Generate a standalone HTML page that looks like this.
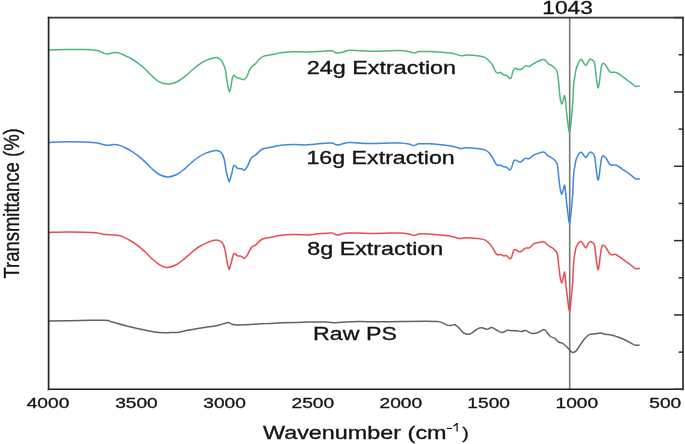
<!DOCTYPE html>
<html><head><meta charset="utf-8"><style>
html,body{margin:0;padding:0;background:#fff;width:685px;height:444px;overflow:hidden}
svg{display:block;will-change:transform;filter:blur(0.3px)}
text{font-family:"Liberation Sans",sans-serif;fill:#141414;stroke:#141414;stroke-width:0.32px}
</style></head><body>
<svg width="685" height="444" viewBox="0 0 685 444">
<line x1="569.7" y1="17.6" x2="569.7" y2="389.3" stroke="#777" stroke-width="1.6"/>
<g fill="none" stroke-linejoin="round" stroke-linecap="round" stroke-width="1.5">
<path stroke="#4cb77b" d="M49.10,49.90 C51.97,49.83 60.52,49.55 66.30,49.50 C72.08,49.45 78.93,49.48 83.80,49.60 C88.67,49.72 92.82,49.90 95.50,50.20 C98.18,50.50 98.45,50.87 99.90,51.40 C101.35,51.93 103.03,52.97 104.20,53.40 C105.37,53.83 105.92,54.00 106.90,54.00 C107.88,54.00 108.72,53.67 110.10,53.40 C111.48,53.13 113.62,52.45 115.20,52.40 C116.78,52.35 117.78,52.48 119.60,53.10 C121.42,53.72 124.20,55.20 126.10,56.10 C128.00,57.00 129.10,57.38 131.00,58.50 C132.90,59.62 135.23,61.13 137.50,62.80 C139.77,64.47 142.20,66.33 144.60,68.50 C147.00,70.67 149.47,73.57 151.90,75.80 C154.33,78.03 156.40,80.52 159.20,81.90 C162.00,83.28 165.78,84.08 168.70,84.10 C171.62,84.12 174.15,83.15 176.70,82.00 C179.25,80.85 181.57,79.08 184.00,77.20 C186.43,75.32 188.87,72.77 191.30,70.70 C193.73,68.63 196.17,66.52 198.60,64.80 C201.03,63.08 203.22,61.57 205.90,60.40 C208.58,59.23 212.75,58.23 214.70,57.80 C216.65,57.37 216.52,57.40 217.60,57.80 C218.68,58.20 220.10,58.83 221.20,60.20 C222.30,61.57 223.43,64.03 224.20,66.00 C224.97,67.97 225.43,70.17 225.80,72.00 C226.17,73.83 226.03,74.50 226.40,77.00 C226.77,79.50 227.48,84.53 228.00,87.00 C228.52,89.47 229.02,91.85 229.50,91.80 C229.98,91.75 230.42,89.00 230.90,86.70 C231.38,84.40 231.90,79.90 232.40,78.00 C232.90,76.10 233.28,75.43 233.90,75.30 C234.52,75.17 235.25,76.72 236.10,77.20 C236.95,77.68 238.03,77.88 239.00,78.20 C239.97,78.52 241.05,78.85 241.90,79.10 C242.75,79.35 243.25,80.13 244.10,79.70 C244.95,79.27 246.15,78.00 247.00,76.50 C247.85,75.00 248.35,72.40 249.20,70.70 C250.05,69.00 251.00,67.52 252.10,66.30 C253.20,65.08 254.58,64.62 255.80,63.40 C257.02,62.18 258.07,60.22 259.40,59.00 C260.73,57.78 262.10,56.78 263.80,56.10 C265.50,55.42 267.65,55.27 269.60,54.90 C271.55,54.53 273.30,54.32 275.50,53.90 C277.70,53.48 279.88,52.77 282.80,52.40 C285.72,52.03 289.35,51.77 293.00,51.70 C296.65,51.63 301.30,52.00 304.70,52.00 C308.10,52.00 310.57,51.83 313.40,51.70 C316.23,51.57 318.62,51.37 321.70,51.20 C324.78,51.03 329.72,50.52 331.90,50.70 C334.08,50.88 333.83,51.90 334.80,52.30 C335.77,52.70 336.23,53.17 337.70,53.10 C339.17,53.03 341.77,52.35 343.60,51.90 C345.43,51.45 345.78,50.60 348.70,50.40 C351.62,50.20 356.60,50.57 361.10,50.70 C365.60,50.83 370.83,51.20 375.70,51.20 C380.57,51.20 385.68,50.78 390.30,50.70 C394.92,50.62 400.32,50.55 403.40,50.70 C406.48,50.85 406.93,51.23 408.80,51.60 C410.67,51.97 412.90,52.90 414.60,52.90 C416.30,52.90 416.57,51.82 419.00,51.60 C421.43,51.38 425.55,51.50 429.20,51.60 C432.85,51.70 437.25,51.95 440.90,52.20 C444.55,52.45 448.43,52.72 451.10,53.10 C453.77,53.48 455.20,54.05 456.90,54.50 C458.60,54.95 459.58,55.70 461.30,55.80 C463.02,55.90 464.52,55.12 467.20,55.10 C469.88,55.08 474.48,55.32 477.40,55.70 C480.32,56.08 482.75,56.52 484.70,57.40 C486.65,58.28 487.83,59.78 489.10,61.00 C490.37,62.22 491.30,63.05 492.30,64.70 C493.30,66.35 494.27,69.53 495.10,70.90 C495.93,72.27 496.47,72.63 497.30,72.90 C498.13,73.17 499.25,72.32 500.10,72.50 C500.95,72.68 501.65,73.55 502.40,74.00 C503.15,74.45 503.85,74.93 504.60,75.20 C505.35,75.47 506.05,75.05 506.90,75.60 C507.75,76.15 508.95,78.25 509.70,78.50 C510.45,78.75 510.83,78.40 511.40,77.10 C511.97,75.80 512.50,72.20 513.10,70.70 C513.70,69.20 514.25,68.35 515.00,68.10 C515.75,67.85 516.70,68.97 517.60,69.20 C518.50,69.43 519.47,69.73 520.40,69.50 C521.33,69.27 522.27,68.42 523.20,67.80 C524.13,67.18 524.97,66.03 526.00,65.80 C527.03,65.57 528.27,66.68 529.40,66.40 C530.53,66.12 531.68,64.77 532.80,64.10 C533.92,63.43 534.98,62.95 536.10,62.40 C537.22,61.85 538.37,61.27 539.50,60.80 C540.63,60.33 541.97,59.70 542.90,59.60 C543.83,59.50 544.17,59.48 545.10,60.20 C546.03,60.92 547.47,63.05 548.50,63.90 C549.53,64.75 550.37,64.70 551.30,65.30 C552.23,65.90 553.15,66.48 554.10,67.50 C555.05,68.52 556.25,68.98 557.00,71.40 C557.75,73.82 558.18,78.57 558.60,82.00 C559.02,85.43 559.20,89.07 559.50,92.00 C559.80,94.93 560.02,97.60 560.40,99.60 C560.78,101.60 561.35,103.85 561.80,104.00 C562.25,104.15 562.63,101.90 563.10,100.50 C563.57,99.10 564.18,95.35 564.60,95.60 C565.02,95.85 565.28,99.33 565.60,102.00 C565.92,104.67 566.13,108.20 566.50,111.60 C566.87,115.00 567.43,119.42 567.80,122.40 C568.17,125.38 568.42,127.73 568.70,129.50 C568.98,131.27 569.25,133.00 569.50,133.00 C569.75,133.00 569.95,131.27 570.20,129.50 C570.45,127.73 570.68,125.38 571.00,122.40 C571.32,119.42 571.78,115.20 572.10,111.60 C572.42,108.00 572.70,104.40 572.90,100.80 C573.10,97.20 573.13,93.13 573.30,90.00 C573.47,86.87 573.67,84.07 573.90,82.00 C574.13,79.93 574.37,79.58 574.70,77.60 C575.03,75.62 575.38,72.30 575.90,70.10 C576.42,67.90 577.17,65.98 577.80,64.40 C578.43,62.82 579.12,61.47 579.70,60.60 C580.28,59.73 580.75,59.03 581.30,59.20 C581.85,59.37 582.28,60.55 583.00,61.60 C583.72,62.65 584.80,65.37 585.60,65.50 C586.40,65.63 587.08,63.47 587.80,62.40 C588.52,61.33 589.20,59.53 589.90,59.10 C590.60,58.67 591.33,59.40 592.00,59.80 C592.67,60.20 593.42,60.60 593.90,61.50 C594.38,62.40 594.58,63.32 594.90,65.20 C595.22,67.08 595.48,70.12 595.80,72.80 C596.12,75.48 596.43,78.80 596.80,81.30 C597.17,83.80 597.62,87.32 598.00,87.80 C598.38,88.28 598.72,86.38 599.10,84.20 C599.48,82.02 599.90,77.70 600.30,74.70 C600.70,71.70 601.07,68.08 601.50,66.20 C601.93,64.32 602.35,63.72 602.90,63.40 C603.45,63.08 604.08,63.60 604.80,64.30 C605.52,65.00 606.42,66.42 607.20,67.60 C607.98,68.78 608.80,70.62 609.50,71.40 C610.20,72.18 610.65,72.15 611.40,72.30 C612.15,72.45 613.25,72.27 614.00,72.30 C614.75,72.33 615.02,72.18 615.90,72.50 C616.78,72.82 617.98,73.35 619.30,74.20 C620.62,75.05 622.30,76.47 623.80,77.60 C625.30,78.73 626.80,79.88 628.30,81.00 C629.80,82.12 631.58,83.42 632.80,84.30 C634.02,85.18 634.52,85.97 635.60,86.30 C636.68,86.63 638.68,86.30 639.30,86.30"/>
<path stroke="#3d88e0" d="M49.10,142.40 C51.97,142.28 60.52,141.77 66.30,141.70 C72.08,141.63 78.93,141.82 83.80,142.00 C88.67,142.18 92.72,142.50 95.50,142.80 C98.28,143.10 98.68,143.38 100.50,143.80 C102.32,144.22 104.73,145.10 106.40,145.30 C108.07,145.50 109.15,145.12 110.50,145.00 C111.85,144.88 112.98,144.53 114.50,144.60 C116.02,144.67 117.90,144.92 119.60,145.40 C121.30,145.88 122.80,146.60 124.70,147.50 C126.60,148.40 128.87,149.50 131.00,150.80 C133.13,152.10 135.23,153.53 137.50,155.30 C139.77,157.07 142.20,159.17 144.60,161.40 C147.00,163.63 149.47,166.52 151.90,168.70 C154.33,170.88 156.52,173.12 159.20,174.50 C161.88,175.88 165.08,177.00 168.00,177.00 C170.92,177.00 174.03,175.77 176.70,174.50 C179.37,173.23 181.57,171.35 184.00,169.40 C186.43,167.45 188.87,164.87 191.30,162.80 C193.73,160.73 196.17,158.62 198.60,157.00 C201.03,155.38 202.98,154.20 205.90,153.10 C208.82,152.00 213.55,150.48 216.10,150.40 C218.65,150.32 219.85,151.13 221.20,152.60 C222.55,154.07 223.33,155.92 224.20,159.20 C225.07,162.48 225.68,168.92 226.40,172.30 C227.12,175.68 227.98,177.98 228.50,179.50 C229.02,181.02 228.97,182.35 229.50,181.40 C230.03,180.45 230.97,176.45 231.70,173.80 C232.43,171.15 232.93,166.43 233.90,165.50 C234.87,164.57 236.28,167.67 237.50,168.20 C238.72,168.73 240.03,168.38 241.20,168.70 C242.37,169.02 243.42,170.58 244.50,170.10 C245.58,169.62 246.55,167.87 247.70,165.80 C248.85,163.73 250.05,159.53 251.40,157.70 C252.75,155.87 253.98,156.25 255.80,154.80 C257.62,153.35 260.00,150.22 262.30,149.00 C264.60,147.78 266.43,148.12 269.60,147.50 C272.77,146.88 277.40,145.78 281.30,145.30 C285.20,144.82 289.10,144.67 293.00,144.60 C296.90,144.53 301.87,144.90 304.70,144.90 C307.53,144.90 307.17,144.82 310.00,144.60 C312.83,144.38 318.05,143.85 321.70,143.60 C325.35,143.35 329.35,142.85 331.90,143.10 C334.45,143.35 335.05,145.02 337.00,145.10 C338.95,145.18 341.53,144.02 343.60,143.60 C345.67,143.18 345.27,142.63 349.40,142.60 C353.53,142.57 361.58,143.32 368.40,143.40 C375.22,143.48 385.03,143.15 390.30,143.10 C395.57,143.05 396.92,142.93 400.00,143.10 C403.08,143.27 406.48,143.70 408.80,144.10 C411.12,144.50 412.20,145.55 413.90,145.50 C415.60,145.45 416.45,144.08 419.00,143.80 C421.55,143.52 425.55,143.63 429.20,143.80 C432.85,143.97 437.25,144.43 440.90,144.80 C444.55,145.17 448.43,145.57 451.10,146.00 C453.77,146.43 455.20,146.97 456.90,147.40 C458.60,147.83 459.83,148.55 461.30,148.60 C462.77,148.65 463.02,147.72 465.70,147.70 C468.38,147.68 474.23,148.13 477.40,148.50 C480.57,148.87 482.75,149.18 484.70,149.90 C486.65,150.62 487.75,151.43 489.10,152.80 C490.45,154.17 491.62,156.18 492.80,158.10 C493.98,160.02 495.35,163.08 496.20,164.30 C497.05,165.52 497.15,165.25 497.90,165.40 C498.65,165.55 499.77,164.98 500.70,165.20 C501.63,165.42 502.57,166.38 503.50,166.70 C504.43,167.02 505.27,166.53 506.30,167.10 C507.33,167.67 508.85,169.92 509.70,170.10 C510.55,170.28 510.75,169.65 511.40,168.20 C512.05,166.75 512.95,162.77 513.60,161.40 C514.25,160.03 514.35,159.90 515.30,160.00 C516.25,160.10 518.17,161.85 519.30,162.00 C520.43,162.15 521.08,161.50 522.10,160.90 C523.12,160.30 524.18,158.78 525.40,158.40 C526.62,158.02 528.08,159.12 529.40,158.60 C530.72,158.08 531.98,156.13 533.30,155.30 C534.62,154.47 535.88,154.12 537.30,153.60 C538.72,153.08 540.58,152.40 541.80,152.20 C543.02,152.00 543.57,151.80 544.60,152.40 C545.63,153.00 546.88,154.95 548.00,155.80 C549.12,156.65 550.18,156.75 551.30,157.50 C552.42,158.25 553.70,159.13 554.70,160.30 C555.70,161.47 556.65,161.88 557.30,164.50 C557.95,167.12 558.23,172.75 558.60,176.00 C558.97,179.25 559.20,181.67 559.50,184.00 C559.80,186.33 560.02,188.30 560.40,190.00 C560.78,191.70 561.35,194.12 561.80,194.20 C562.25,194.28 562.63,192.02 563.10,190.50 C563.57,188.98 564.18,184.85 564.60,185.10 C565.02,185.35 565.28,189.27 565.60,192.00 C565.92,194.73 566.13,198.08 566.50,201.50 C566.87,204.92 567.43,209.45 567.80,212.50 C568.17,215.55 568.42,217.97 568.70,219.80 C568.98,221.63 569.25,223.50 569.50,223.50 C569.75,223.50 569.95,221.63 570.20,219.80 C570.45,217.97 570.68,215.55 571.00,212.50 C571.32,209.45 571.78,205.17 572.10,201.50 C572.42,197.83 572.70,194.08 572.90,190.50 C573.10,186.92 573.13,183.08 573.30,180.00 C573.47,176.92 573.67,174.17 573.90,172.00 C574.13,169.83 574.37,168.92 574.70,167.00 C575.03,165.08 575.38,162.42 575.90,160.50 C576.42,158.58 577.17,156.78 577.80,155.50 C578.43,154.22 579.08,153.33 579.70,152.80 C580.32,152.27 580.90,152.00 581.50,152.30 C582.10,152.60 582.58,153.72 583.30,154.60 C584.02,155.48 585.03,157.62 585.80,157.60 C586.57,157.58 587.20,155.42 587.90,154.50 C588.60,153.58 589.32,152.38 590.00,152.10 C590.68,151.82 591.35,152.40 592.00,152.80 C592.65,153.20 593.42,153.63 593.90,154.50 C594.38,155.37 594.58,156.17 594.90,158.00 C595.22,159.83 595.48,162.83 595.80,165.50 C596.12,168.17 596.43,171.58 596.80,174.00 C597.17,176.42 597.62,179.58 598.00,180.00 C598.38,180.42 598.72,178.75 599.10,176.50 C599.48,174.25 599.90,169.50 600.30,166.50 C600.70,163.50 601.07,160.28 601.50,158.50 C601.93,156.72 602.35,156.10 602.90,155.80 C603.45,155.50 604.08,156.00 604.80,156.70 C605.52,157.40 606.42,158.78 607.20,160.00 C607.98,161.22 608.80,163.13 609.50,164.00 C610.20,164.87 610.65,165.02 611.40,165.20 C612.15,165.38 613.25,165.13 614.00,165.10 C614.75,165.07 615.02,164.68 615.90,165.00 C616.78,165.32 617.98,166.13 619.30,167.00 C620.62,167.87 622.30,169.17 623.80,170.20 C625.30,171.23 626.80,172.13 628.30,173.20 C629.80,174.27 631.58,175.65 632.80,176.60 C634.02,177.55 634.52,178.52 635.60,178.90 C636.68,179.28 638.68,178.90 639.30,178.90"/>
<path stroke="#ea4a52" d="M49.10,232.40 C52.45,232.33 61.47,231.93 69.20,232.00 C76.93,232.07 89.90,232.43 95.50,232.80 C101.10,233.17 100.85,233.90 102.80,234.20 C104.75,234.50 105.25,234.48 107.20,234.60 C109.15,234.72 112.07,234.60 114.50,234.90 C116.93,235.20 119.05,235.38 121.80,236.40 C124.55,237.42 128.38,239.52 131.00,241.00 C133.62,242.48 135.23,243.57 137.50,245.30 C139.77,247.03 142.20,249.17 144.60,251.40 C147.00,253.63 149.47,256.52 151.90,258.70 C154.33,260.88 156.65,263.05 159.20,264.50 C161.75,265.95 164.28,267.40 167.20,267.40 C170.12,267.40 173.90,265.88 176.70,264.50 C179.50,263.12 181.57,261.05 184.00,259.10 C186.43,257.15 188.87,254.82 191.30,252.80 C193.73,250.78 195.92,248.70 198.60,247.00 C201.28,245.30 204.48,243.75 207.40,242.60 C210.32,241.45 213.67,240.10 216.10,240.10 C218.53,240.10 220.53,241.08 222.00,242.60 C223.47,244.12 224.05,245.92 224.90,249.20 C225.75,252.48 226.50,259.25 227.10,262.30 C227.70,265.35 228.10,266.40 228.50,267.50 C228.90,268.60 228.97,270.00 229.50,268.90 C230.03,267.80 230.97,263.45 231.70,260.90 C232.43,258.35 232.93,254.45 233.90,253.60 C234.87,252.75 236.28,255.37 237.50,255.80 C238.72,256.23 240.03,255.80 241.20,256.20 C242.37,256.60 243.42,258.52 244.50,258.20 C245.58,257.88 246.55,256.10 247.70,254.30 C248.85,252.50 250.05,248.98 251.40,247.40 C252.75,245.82 253.98,246.20 255.80,244.80 C257.62,243.40 260.00,240.22 262.30,239.00 C264.60,237.78 266.43,238.12 269.60,237.50 C272.77,236.88 277.40,235.78 281.30,235.30 C285.20,234.82 288.62,234.65 293.00,234.60 C297.38,234.55 304.77,234.97 307.60,235.00 C310.43,235.03 307.65,235.03 310.00,234.80 C312.35,234.57 318.05,233.88 321.70,233.60 C325.35,233.32 329.35,232.85 331.90,233.10 C334.45,233.35 335.05,235.02 337.00,235.10 C338.95,235.18 341.53,233.97 343.60,233.60 C345.67,233.23 345.27,232.93 349.40,232.90 C353.53,232.87 361.58,233.37 368.40,233.40 C375.22,233.43 385.03,233.15 390.30,233.10 C395.57,233.05 396.92,232.93 400.00,233.10 C403.08,233.27 406.42,233.70 408.80,234.10 C411.18,234.50 412.60,235.53 414.30,235.50 C416.00,235.47 416.52,234.13 419.00,233.90 C421.48,233.67 425.55,233.90 429.20,234.10 C432.85,234.30 437.25,234.73 440.90,235.10 C444.55,235.47 447.93,235.73 451.10,236.30 C454.27,236.87 457.47,238.27 459.90,238.50 C462.33,238.73 462.78,237.70 465.70,237.70 C468.62,237.70 474.23,238.13 477.40,238.50 C480.57,238.87 482.75,239.10 484.70,239.90 C486.65,240.70 487.75,241.93 489.10,243.30 C490.45,244.67 491.62,246.37 492.80,248.10 C493.98,249.83 495.35,252.58 496.20,253.70 C497.05,254.82 497.15,254.67 497.90,254.80 C498.65,254.93 499.77,254.32 500.70,254.50 C501.63,254.68 502.57,255.72 503.50,255.90 C504.43,256.08 505.22,255.12 506.30,255.60 C507.38,256.08 509.12,258.55 510.00,258.80 C510.88,259.05 511.00,258.45 511.60,257.10 C512.20,255.75 512.98,251.97 513.60,250.70 C514.22,249.43 514.35,249.32 515.30,249.50 C516.25,249.68 518.17,251.60 519.30,251.80 C520.43,252.00 521.08,251.32 522.10,250.70 C523.12,250.08 524.18,248.58 525.40,248.10 C526.62,247.62 528.08,248.47 529.40,247.80 C530.72,247.13 531.98,244.93 533.30,244.10 C534.62,243.27 535.88,243.17 537.30,242.80 C538.72,242.43 540.58,242.02 541.80,241.90 C543.02,241.78 543.57,241.50 544.60,242.10 C545.63,242.70 546.88,244.63 548.00,245.50 C549.12,246.37 550.18,246.58 551.30,247.30 C552.42,248.02 553.70,248.72 554.70,249.80 C555.70,250.88 556.65,251.35 557.30,253.80 C557.95,256.25 558.23,261.47 558.60,264.50 C558.97,267.53 559.20,269.67 559.50,272.00 C559.80,274.33 560.02,276.68 560.40,278.50 C560.78,280.32 561.35,282.90 561.80,282.90 C562.25,282.90 562.63,280.30 563.10,278.50 C563.57,276.70 564.18,271.77 564.60,272.10 C565.02,272.43 565.28,277.55 565.60,280.50 C565.92,283.45 566.13,286.47 566.50,289.80 C566.87,293.13 567.43,297.47 567.80,300.50 C568.17,303.53 568.42,306.17 568.70,308.00 C568.98,309.83 569.25,311.50 569.50,311.50 C569.75,311.50 569.95,309.83 570.20,308.00 C570.45,306.17 570.68,303.58 571.00,300.50 C571.32,297.42 571.78,293.17 572.10,289.50 C572.42,285.83 572.70,282.08 572.90,278.50 C573.10,274.92 573.13,271.08 573.30,268.00 C573.47,264.92 573.67,262.25 573.90,260.00 C574.13,257.75 574.37,256.50 574.70,254.50 C575.03,252.50 575.38,249.75 575.90,248.00 C576.42,246.25 577.17,245.03 577.80,244.00 C578.43,242.97 579.10,242.18 579.70,241.80 C580.30,241.42 580.80,241.28 581.40,241.70 C582.00,242.12 582.57,243.27 583.30,244.30 C584.03,245.33 585.03,247.90 585.80,247.90 C586.57,247.90 587.20,245.35 587.90,244.30 C588.60,243.25 589.32,241.95 590.00,241.60 C590.68,241.25 591.35,241.83 592.00,242.20 C592.65,242.57 593.42,242.92 593.90,243.80 C594.38,244.68 594.58,245.63 594.90,247.50 C595.22,249.37 595.48,252.33 595.80,255.00 C596.12,257.67 596.43,261.07 596.80,263.50 C597.17,265.93 597.62,269.27 598.00,269.60 C598.38,269.93 598.72,267.85 599.10,265.50 C599.48,263.15 599.90,258.42 600.30,255.50 C600.70,252.58 601.07,249.72 601.50,248.00 C601.93,246.28 602.35,245.50 602.90,245.20 C603.45,244.90 604.08,245.48 604.80,246.20 C605.52,246.92 606.42,248.28 607.20,249.50 C607.98,250.72 608.80,252.63 609.50,253.50 C610.20,254.37 610.65,254.52 611.40,254.70 C612.15,254.88 613.25,254.63 614.00,254.60 C614.75,254.57 615.02,254.13 615.90,254.50 C616.78,254.87 617.98,255.92 619.30,256.80 C620.62,257.68 622.30,258.73 623.80,259.80 C625.30,260.87 626.80,262.07 628.30,263.20 C629.80,264.33 631.58,265.72 632.80,266.60 C634.02,267.48 634.52,268.18 635.60,268.50 C636.68,268.82 638.68,268.50 639.30,268.50"/>
<path stroke="#626262" d="M49.20,320.90 C54.48,320.83 71.53,320.60 80.90,320.50 C90.27,320.40 100.30,320.08 105.40,320.30 C110.50,320.52 108.10,320.88 111.50,321.80 C114.90,322.72 120.68,324.52 125.80,325.80 C130.92,327.08 137.43,328.47 142.20,329.50 C146.97,330.53 150.65,331.45 154.40,332.00 C158.15,332.55 161.63,332.72 164.70,332.80 C167.77,332.88 170.45,332.60 172.80,332.50 C175.15,332.40 176.10,332.60 178.80,332.20 C181.50,331.80 185.60,330.77 189.00,330.10 C192.40,329.43 195.80,328.75 199.20,328.20 C202.60,327.65 206.00,327.35 209.40,326.80 C212.80,326.25 217.05,325.47 219.60,324.90 C222.15,324.33 223.23,323.78 224.70,323.40 C226.17,323.02 227.18,322.47 228.40,322.60 C229.62,322.73 230.53,323.82 232.00,324.20 C233.47,324.58 234.40,324.83 237.20,324.90 C240.00,324.97 245.40,324.75 248.80,324.60 C252.20,324.45 254.07,324.20 257.60,324.00 C261.13,323.80 265.95,323.60 270.00,323.40 C274.05,323.20 276.27,323.00 281.90,322.80 C287.53,322.60 296.50,322.35 303.80,322.20 C311.10,322.05 320.58,321.80 325.70,321.90 C330.82,322.00 331.82,322.75 334.50,322.80 C337.18,322.85 337.55,322.40 341.80,322.20 C346.05,322.00 354.25,321.67 360.00,321.60 C365.75,321.53 369.22,321.82 376.30,321.80 C383.38,321.78 394.33,321.58 402.50,321.50 C410.67,321.42 419.45,321.28 425.30,321.30 C431.15,321.32 434.68,321.33 437.60,321.60 C440.52,321.87 441.20,322.32 442.80,322.90 C444.40,323.48 445.88,324.67 447.20,325.10 C448.52,325.53 449.38,325.55 450.70,325.50 C452.02,325.45 453.50,324.13 455.10,324.80 C456.70,325.47 458.88,328.17 460.30,329.50 C461.72,330.83 462.32,332.00 463.60,332.80 C464.88,333.60 466.65,334.23 468.00,334.30 C469.35,334.37 470.12,334.10 471.70,333.20 C473.28,332.30 475.80,329.80 477.50,328.90 C479.20,328.00 480.32,327.73 481.90,327.80 C483.48,327.87 485.35,329.37 487.00,329.30 C488.65,329.23 490.22,327.28 491.80,327.40 C493.38,327.52 494.75,329.15 496.50,330.00 C498.25,330.85 500.48,332.45 502.30,332.50 C504.12,332.55 505.68,330.58 507.40,330.30 C509.12,330.02 511.02,330.72 512.60,330.80 C514.18,330.88 515.45,330.68 516.90,330.80 C518.35,330.92 519.83,331.55 521.30,331.50 C522.77,331.45 524.00,330.22 525.70,330.50 C527.40,330.78 529.55,332.82 531.50,333.20 C533.45,333.58 535.33,333.40 537.40,332.80 C539.47,332.20 542.32,329.70 543.90,329.60 C545.48,329.50 545.80,331.05 546.90,332.20 C548.00,333.35 549.22,335.50 550.50,336.50 C551.78,337.50 553.22,337.25 554.60,338.20 C555.98,339.15 557.50,341.38 558.80,342.20 C560.10,343.02 561.18,342.42 562.40,343.10 C563.62,343.78 564.88,345.17 566.10,346.30 C567.32,347.43 568.62,348.88 569.70,349.90 C570.78,350.92 571.50,352.27 572.60,352.40 C573.70,352.53 574.95,352.08 576.30,350.70 C577.65,349.32 579.25,346.18 580.70,344.10 C582.15,342.02 583.55,339.78 585.00,338.20 C586.45,336.62 587.93,335.30 589.40,334.60 C590.87,333.90 591.97,334.25 593.80,334.00 C595.63,333.75 598.45,333.07 600.40,333.10 C602.35,333.13 603.68,333.90 605.50,334.20 C607.32,334.50 609.35,334.47 611.30,334.90 C613.25,335.33 615.25,336.12 617.20,336.80 C619.15,337.48 621.07,338.15 623.00,339.00 C624.93,339.85 626.85,340.88 628.80,341.90 C630.75,342.92 632.98,344.57 634.70,345.10 C636.42,345.63 638.37,345.10 639.10,345.10"/>
</g>
<g stroke-width="1.6" stroke-linecap="square">
<line x1="48.6" y1="17.6" x2="683.0" y2="17.6" stroke="#383838"/>
<line x1="48.6" y1="389.3" x2="683.0" y2="389.3" stroke="#1e1e1e"/>
<line x1="48.6" y1="17.6" x2="48.6" y2="389.3" stroke="#242424" stroke-width="1.7"/>
<line x1="683.0" y1="17.6" x2="683.0" y2="389.3" stroke="#444" stroke-width="1.9"/>
</g>
<g stroke="#2e2e2e" stroke-width="1.5">
<line x1="674.0" y1="17.60" x2="683.0" y2="17.60"/><line x1="678.6" y1="54.77" x2="683.0" y2="54.77"/><line x1="674.0" y1="91.94" x2="683.0" y2="91.94"/><line x1="678.6" y1="129.11" x2="683.0" y2="129.11"/><line x1="674.0" y1="166.28" x2="683.0" y2="166.28"/><line x1="678.6" y1="203.45" x2="683.0" y2="203.45"/><line x1="674.0" y1="240.62" x2="683.0" y2="240.62"/><line x1="678.6" y1="277.79" x2="683.0" y2="277.79"/><line x1="674.0" y1="314.96" x2="683.0" y2="314.96"/><line x1="678.6" y1="352.13" x2="683.0" y2="352.13"/><line x1="674.0" y1="389.30" x2="683.0" y2="389.30"/>
</g>
<text transform="translate(542.28,13.54) scale(1.2716,1)" font-size="17.90">1043</text>
<text transform="translate(306.83,73.64) scale(1.3050,1)" font-size="17.90">24g Extraction</text>
<text transform="translate(306.44,163.64) scale(1.2970,1)" font-size="17.90">16g Extraction</text>
<text transform="translate(307.27,254.84) scale(1.3026,1)" font-size="17.90">8g Extraction</text>
<text transform="translate(313.04,339.64) scale(1.2966,1)" font-size="17.90">Raw PS</text>
<text transform="translate(262.97,438.74) scale(1.3069,1)" font-size="17.90">Wavenumber (cm</text>
<path d="M453.4,426.1 Q455.6,425.2 456.6,423.7 L457.1,423.7 L457.1,431.6" fill="none" stroke="#141414" stroke-width="1.25"/>
<text transform="translate(462.16,438.63) scale(1.1351,1)" font-size="17.21">)</text>
<rect x="446.8" y="427.85" width="5.1" height="1.15" fill="#141414"/>
<text transform="translate(26.73,408.44) scale(1.26,1)" font-size="15.2">4000</text>
<text transform="translate(115.19,408.44) scale(1.26,1)" font-size="15.2">3500</text>
<text transform="translate(203.34,408.44) scale(1.26,1)" font-size="15.2">3000</text>
<text transform="translate(291.49,408.44) scale(1.26,1)" font-size="15.2">2500</text>
<text transform="translate(379.58,408.44) scale(1.26,1)" font-size="15.2">2000</text>
<text transform="translate(467.36,408.44) scale(1.26,1)" font-size="15.2">1500</text>
<text transform="translate(555.56,408.44) scale(1.26,1)" font-size="15.2">1000</text>
<text transform="translate(649.31,408.44) scale(1.26,1)" font-size="15.2">500</text>
<text transform="translate(18.70,278.61) scale(1.24,1) rotate(-90)" font-size="18.51">Transmittance (%)</text>
</svg>
</body></html>
